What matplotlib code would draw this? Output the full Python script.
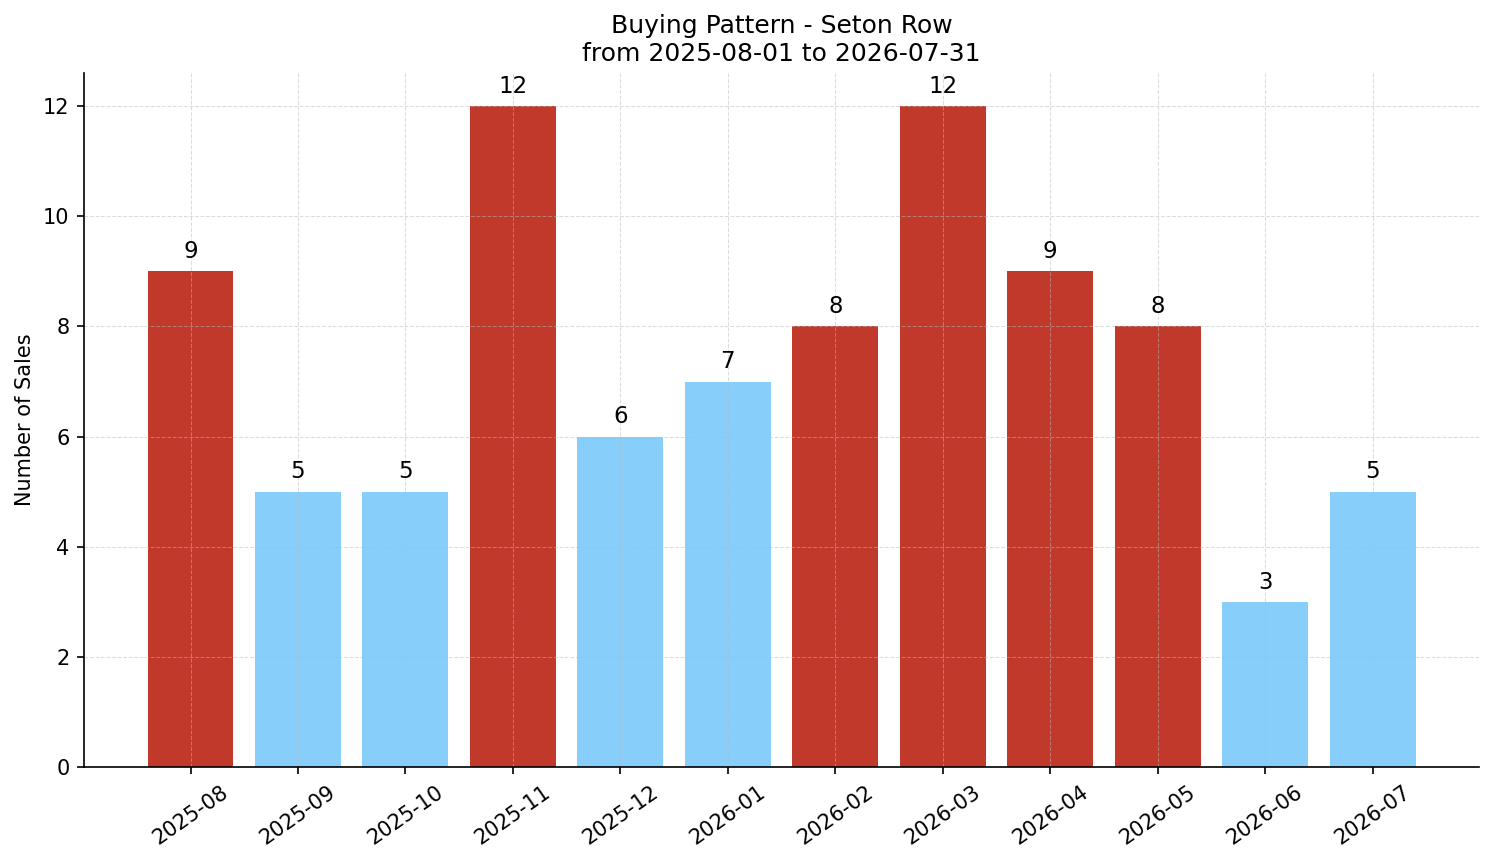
import matplotlib
matplotlib.use('Agg')
import matplotlib.pyplot as plt
import numpy as np

# Monthly sales counts
months = ['2025-08', '2025-09', '2025-10', '2025-11', '2025-12', '2026-01',
          '2026-02', '2026-03', '2026-04', '2026-05', '2026-06', '2026-07']
sales = [9, 5, 5, 12, 6, 7, 8, 12, 9, 8, 3, 5]

HIGH_COLOR = '#c0392b'
LOW_COLOR = '#87cefa'


def main():
  avg = np.mean(sales)
  colors = [HIGH_COLOR if s > avg else LOW_COLOR for s in sales]

  fig, ax = plt.subplots(figsize=(1494 / 150, 863 / 150), dpi=150)
  x = np.arange(len(months))
  bars = ax.bar(x, sales, color=colors, width=0.8)
  for b, s in zip(bars, sales):
    ax.annotate(str(s), (b.get_x() + b.get_width() / 2, b.get_height()),
                xytext=(0, 4), textcoords='offset points',
                ha='center', va='bottom', fontsize=11)

  ax.set_xticks(x)
  ax.set_xticklabels(months, rotation=35)
  ax.set_ylabel('Number of Sales', fontsize=10)
  ax.set_title('Buying Pattern - Seton Row\nfrom 2025-08-01 to 2026-07-31',
               fontsize=12)
  ax.grid(True, linestyle='--', linewidth=0.5, color='#bbbbbb', alpha=0.5)
  ax.spines['top'].set_visible(False)
  ax.spines['right'].set_visible(False)
  ax.tick_params(labelsize=10)

  fig.subplots_adjust(left=0.0563, right=0.990, top=0.9154, bottom=0.111)
  fig.savefig('out.png', dpi=150)
  plt.close(fig)


if __name__ == "__main__":
  main()
